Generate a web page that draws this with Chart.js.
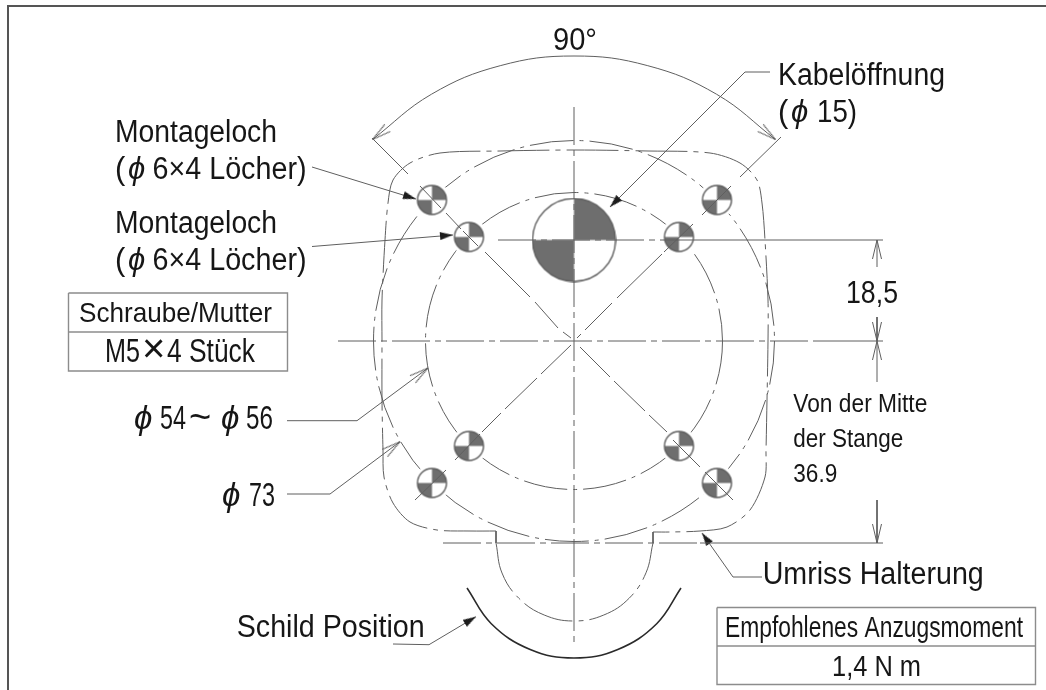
<!DOCTYPE html>
<html lang="de">
<head>
<meta charset="utf-8">
<title>Montagelöcher</title>
<script src="https://cdn.jsdelivr.net/npm/chart.js@4"></script>
<style>
    html, body { margin: 0; padding: 0; background: #fff; }
    canvas { display: block; filter: blur(0.4px); }
</style>
</head>
<body>
<canvas id="drawingChart" width="1046" height="690"></canvas>
<script>
// Drawing data (x, y in picture units)
const frame = [[8, 690], [8, 6], [1046, 6]];
const centerV = [[574, 107], [574, 643]];
const centerH = [[338, 341], [816, 341]];
const tickH = [[816, 341], [883, 341]];
const refTop = [[498, 240], [680, 240]];
const refTopSolid = [[680, 240], [883, 240]];
const refBottom = [[443, 543], [700, 543]];
const refBottomSolid = [[700, 543], [883, 543]];

// null rows are the breaks in the diagonals
const diagUpLeft = [[372, 138], [408, 174], [null, null], [420, 186], [441, 208], [null, null], [446, 213], [461, 229], [null, null],
    [463, 231], [478, 246], [null, null], [485, 252], [530, 297], [null, null], [535, 302], [558, 328], [null, null], [563, 332], [571, 338]];
const diagUpRight = [[781, 137], [740, 177], [null, null], [731, 186], [702, 215], [null, null], [693, 224], [664, 252], [null, null],
    [662, 254], [617, 298], [null, null], [612, 303], [585, 330], [null, null], [581, 334], [577, 338]];
const diagDownLeft = [[571, 345], [541, 374], [null, null], [537, 378], [505, 409], [null, null], [501, 413], [482, 432], [null, null],
    [480, 434], [455, 460], [null, null], [446, 470], [415, 500]];
const diagDownRight = [[580, 347], [610, 377], [null, null], [614, 381], [645, 411], [null, null], [649, 415], [667, 432], [null, null],
    [673, 440], [700, 467], [null, null], [705, 472], [733, 500]];

const angleArc = [[372.5, 139.5], [431.5, 94.2], [500.2, 65.7], [574, 56], [647.8, 65.7], [716.5, 94.2], [775.5, 139.5]];
const outline = [[496, 531], [470, 531], [437, 530], [410, 522], [393, 503], [384, 477], [383, 450], [382, 400], [382, 341],
    [382, 300], [385, 240], [388, 203], [393, 180], [410, 163], [440, 153], [500, 151], [574, 150], [648, 151], [710, 153],
    [740, 163], [757, 180], [762, 203], [765, 240], [768, 300], [768, 341], [767, 400], [766, 450], [765, 477], [750, 510],
    [727, 527], [700, 531], [670, 532], [653, 532]];
const notchLeft = [[496, 531], [496, 543]];
const notchRight = [[653, 532], [653, 543]];
const tabArc = [[496, 543], [502, 573], [518.8, 598.2], [544.2, 615], [574, 621], [603.8, 615], [629.2, 598.2], [646, 572.8], [653, 543]];
const shieldArc = [[467, 588], [491.3, 623.7], [530.2, 649.5], [574, 658], [617.8, 649.5], [656.7, 623.7], [681, 588]];

const boltCircle = [[574, 341]];
const outerHoles = [[432, 200], [717, 200], [432, 483], [717, 483]];
const innerHoles = [[469, 237], [679, 237], [469, 446], [679, 446]];
const cableHole = [[574, 240]];

const leaderOuterHole = [[312, 167], [416, 199]];
const leaderInnerHole = [[312, 246.5], [453, 235]];
const leaderCable = [[770, 72], [745, 72], [610, 207]];
const leaderSmallDia = [[287, 420.7], [357, 420.7], [428, 368]];
const leaderLargeDia = [[287, 494], [330, 494], [400, 441.7]];
const leaderShield = [[393, 644], [429, 644.7], [476, 616.7]];
const leaderOutline = [[762, 577], [733, 577], [702, 533]];

const dimUpperA = [[877, 267], [877, 240]];
const dimUpperB = [[877, 317], [877, 341]];
const dimLowerA = [[877, 382], [877, 341]];
const dimLowerB = [[877, 500], [877, 543]];

const boxScrew = [[68.5, 293], [287.5, 293], [287.5, 371], [68.5, 371], [68.5, 293]];
const boxScrewRow = [[68.5, 332], [287.5, 332]];
const boxTorque = [[717, 607.5], [1035.5, 607.5], [1035.5, 684.5], [717, 684.5], [717, 607.5]];
const boxTorqueRow = [[717, 646], [1035.5, 646]];

const labels = [
    { text: '90°', x: 553, y: 50, size: 31, width: 44 },
    { text: 'Kabelöffnung', x: 778, y: 85, size: 31, width: 167 },
    { text: '(', x: 778, y: 121.7, size: 31 },
    { text: 'ϕ', x: 791, y: 121.7, size: 31, italic: true, width: 20 },
    { text: '15)', x: 817, y: 121.7, size: 31, width: 40 },
    { text: 'Montageloch', x: 115, y: 141.7, size: 31, width: 162 },
    { text: '(', x: 115, y: 179, size: 31 },
    { text: 'ϕ', x: 128, y: 179, size: 31, italic: true, width: 20 },
    { text: '6×4 Löcher)', x: 152.5, y: 179, size: 31, width: 154 },
    { text: 'Montageloch', x: 115, y: 233, size: 31, width: 162 },
    { text: '(', x: 115, y: 270, size: 31 },
    { text: 'ϕ', x: 128, y: 270, size: 31, italic: true, width: 20 },
    { text: '6×4 Löcher)', x: 152.5, y: 270, size: 31, width: 154 },
    { text: 'Schraube/Mutter', x: 79, y: 321.7, size: 28, width: 193 },
    { text: 'M5', x: 105, y: 361.7, size: 33, width: 35 },
    { text: '×', x: 142, y: 362, size: 40, width: 24 },
    { text: '4 Stück', x: 167, y: 361.7, size: 33, width: 88 },
    { text: 'ϕ', x: 134, y: 429, size: 33, italic: true, width: 21 },
    { text: '54', x: 160, y: 429, size: 33, width: 26 },
    { text: '~', x: 189, y: 430, size: 38, width: 25 },
    { text: 'ϕ', x: 221, y: 429, size: 33, italic: true, width: 21 },
    { text: '56', x: 246, y: 429, size: 33, width: 27 },
    { text: 'ϕ', x: 222, y: 505.7, size: 33, italic: true, width: 21 },
    { text: '73', x: 249, y: 505.7, size: 33, width: 26 },
    { text: 'Schild Position', x: 236.7, y: 636.7, size: 32, width: 188 },
    { text: '18,5', x: 846, y: 302.7, size: 31, width: 52 },
    { text: 'Von der Mitte', x: 793.3, y: 411.7, size: 25, width: 134 },
    { text: 'der Stange', x: 793.3, y: 446.7, size: 25, width: 110 },
    { text: '36.9', x: 793.3, y: 481.7, size: 25, width: 44 },
    { text: 'Umriss Halterung', x: 762.7, y: 584, size: 31, width: 221 },
    { text: 'Empfohlenes Anzugsmoment', x: 725, y: 636.7, size: 29, width: 298 },
    { text: '1,4 N m', x: 832, y: 676, size: 30, width: 89 }
];

const lineColor = '#5f5f5f';
const boxColor = '#8c8c8c';
const holeColor = '#6e6e6e';
const textColor = '#161616';
const centerDash = [38, 5, 6, 5];
const outlineDash = [52, 6, 5, 6];
const ringDash = [44, 6, 4, 6];

// Marker images used as point styles, with a white halo that breaks the rings
function holeMarker(radius, halo) {
    const c = document.createElement('canvas');
    c.width = c.height = (radius + halo) * 2 + 2;
    const g = c.getContext('2d');
    const m = radius + halo + 1;
    g.fillStyle = '#ffffff';
    g.beginPath(); g.arc(m, m, radius + halo, 0, Math.PI * 2); g.fill();
    g.fillStyle = holeColor;
    g.beginPath(); g.moveTo(m, m); g.arc(m, m, radius, -Math.PI / 2, 0); g.closePath(); g.fill();
    g.beginPath(); g.moveTo(m, m); g.arc(m, m, radius, Math.PI / 2, Math.PI); g.closePath(); g.fill();
    g.strokeStyle = lineColor;
    g.lineWidth = 1.4;
    g.beginPath(); g.arc(m, m, radius, 0, Math.PI * 2); g.stroke();
    return c;
}

// Arrow head with its tip in the middle of the image, pointing along +x
function arrowMarker(length, half, filled) {
    const c = document.createElement('canvas');
    c.width = c.height = length * 2 + 4;
    const g = c.getContext('2d');
    const m = length + 2;
    g.strokeStyle = lineColor;
    g.fillStyle = '#1c1c1c';
    g.lineWidth = 1;
    g.beginPath();
    g.moveTo(m - length, m - half);
    g.lineTo(m, m);
    g.lineTo(m - length, m + half);
    if (filled) {
        g.closePath();
        g.fill();
    } else {
        g.stroke();
    }
    return c;
}

const openArrow = arrowMarker(19, 4.5, false);
const solidArrow = arrowMarker(13, 4, true);

function line(data, extra) {
    return Object.assign({
        data: data, showLine: true, pointRadius: 0, borderColor: lineColor, borderWidth: 1, tension: 0
    }, extra || {});
}

// Line whose last point carries an arrow head
function leader(data, marker) {
    const n = data.length;
    const a = data[n - 2], b = data[n - 1];
    return line(data, {
        pointRadius: c => c.dataIndex === n - 1 ? 10 : 0,
        pointStyle: marker,
        pointRotation: Math.atan2(b[1] - a[1], b[0] - a[0]) * 180 / Math.PI
    });
}

// Arc with an arrow head on both ends, head follows the chord to the next point
function arcWithArrows(data, marker) {
    const n = data.length;
    const heading = (a, b) => Math.atan2(b[1] - a[1], b[0] - a[0]) * 180 / Math.PI;
    return line(data, {
        tension: 0.4,
        pointRadius: c => (c.dataIndex === 0 || c.dataIndex === n - 1) ? 10 : 0,
        pointStyle: marker,
        pointRotation: c => c.dataIndex === 0 ? heading(data[1], data[0]) : heading(data[n - 2], data[n - 1])
    });
}

function ring(data, radius, dash) {
    return {
        data: data, pointRadius: radius, pointBorderColor: lineColor, pointBorderWidth: 1,
        pointBackgroundColor: 'transparent', ringDash: dash
    };
}

function holes(data, radius, halo) {
    return { data: data, pointRadius: radius, pointStyle: holeMarker(radius, halo) };
}

// Points have no dash option, so set it on the context around the dataset
const ringDashPlugin = {
    id: 'ringDash',
    beforeDatasetDraw(chart, args) {
        const dash = chart.data.datasets[args.index].ringDash;
        if (dash) chart.ctx.setLineDash(dash);
    },
    afterDatasetDraw(chart) {
        chart.ctx.setLineDash([]);
    }
};

const textPlugin = {
    id: 'drawingText',
    afterDatasetsDraw(chart) {
        const ctx = chart.ctx;
        const xs = chart.scales.x, ys = chart.scales.y;
        ctx.save();
        ctx.fillStyle = textColor;
        ctx.textAlign = 'left';
        ctx.textBaseline = 'alphabetic';
        labels.forEach(l => {
            ctx.font = (l.italic ? 'italic ' : '') + l.size + 'px "Liberation Sans", Arial, sans-serif';
            ctx.fillText(l.text, xs.getPixelForValue(l.x), ys.getPixelForValue(l.y), l.width);
        });
        ctx.restore();
    }
};

// First dataset ends up on top
const datasets = [
    line(centerV, { borderDash: centerDash }),
    line(centerH, { borderDash: centerDash }),
    line(tickH),
    line(refTop, { borderDash: centerDash }),
    line(refTopSolid),
    line(refBottom, { borderDash: centerDash }),
    line(refBottomSolid),
    line(diagUpLeft),
    line(diagUpRight),
    line(diagDownLeft),
    line(diagDownRight),
    leader(leaderOuterHole, solidArrow),
    leader(leaderInnerHole, solidArrow),
    leader(leaderCable, solidArrow),
    leader(leaderSmallDia, openArrow),
    leader(leaderLargeDia, openArrow),
    leader(leaderShield, solidArrow),
    leader(leaderOutline, solidArrow),
    leader(dimUpperA, openArrow),
    leader(dimUpperB, openArrow),
    leader(dimLowerA, openArrow),
    leader(dimLowerB, openArrow),
    holes(outerHoles, 14.5, 4),
    holes(innerHoles, 14.5, 4),
    holes(cableHole, 41.5, 0),
    ring(boltCircle, 148.5, ringDash),
    ring(boltCircle, 200.5, ringDash),
    line(outline, { borderDash: outlineDash, tension: 0.3 }),
    line(notchLeft),
    line(notchRight),
    line(tabArc, { borderDash: outlineDash, tension: 0.4 }),
    line(shieldArc, { borderColor: '#2a2a2a', borderWidth: 1.6, tension: 0.4 }),
    arcWithArrows(angleArc, openArrow),
    line(frame, { borderColor: '#555555', borderWidth: 2 }),
    line(boxScrew, { borderColor: boxColor, borderWidth: 1.4 }),
    line(boxScrewRow, { borderColor: boxColor, borderWidth: 1.4 }),
    line(boxTorque, { borderColor: boxColor, borderWidth: 1.4 }),
    line(boxTorqueRow, { borderColor: boxColor, borderWidth: 1.4 })
];

new Chart(document.getElementById('drawingChart').getContext('2d'), {
    type: 'scatter',
    data: { datasets: datasets },
    plugins: [ringDashPlugin, textPlugin],
    options: {
        responsive: false,
        animation: false,
        events: [],
        layout: { padding: 0, autoPadding: false },
        plugins: { legend: { display: false }, tooltip: { enabled: false } },
        scales: {
            x: { type: 'linear', min: 0, max: 1046, display: false },
            y: { type: 'linear', min: 0, max: 690, reverse: true, display: false }
        }
    }
});
</script>
</body>
</html>
